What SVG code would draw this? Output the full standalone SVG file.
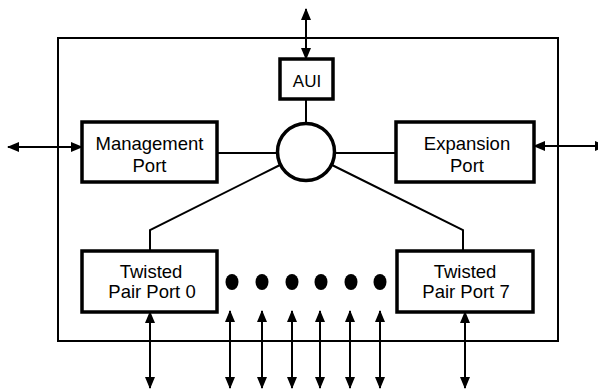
<svg xmlns="http://www.w3.org/2000/svg" width="598" height="389" viewBox="0 0 598 389">
  <style>
    .box { fill: #fff; stroke: #000; stroke-width: 3.5; }
    .frame { fill: none; stroke: #000; stroke-width: 2; }
    .wire { fill: none; stroke: #000; stroke-width: 2; }
    .arr { fill: none; stroke: #000; stroke-width: 2; marker-start: url(#ah); marker-end: url(#ah); }
    .lbl { font-family: "Liberation Sans", Arial, sans-serif; font-size: 18.5px; text-anchor: middle; fill: #000; }
    .dot { fill: #000; }
  </style>
  <defs>
    <marker id="ah" viewBox="0 0 12 10" refX="11" refY="5" markerWidth="12" markerHeight="10" markerUnits="userSpaceOnUse" orient="auto-start-reverse">
      <path d="M0,0 L12,5 L0,10 Z" fill="#000"/>
    </marker>
  </defs>
  <rect width="598" height="389" fill="#fff"/>

  <g id="enclosure">
    <rect class="frame" x="58" y="38" width="500" height="303"/>
  </g>

  <g id="connectors">
    <line class="wire" x1="306" y1="99" x2="306" y2="123"/>
    <line class="wire" x1="217" y1="153" x2="277" y2="153"/>
    <line class="wire" x1="335" y1="153" x2="396" y2="153"/>
    <polyline class="wire" points="280,165 150,230 150,251"/>
    <polyline class="wire" points="332,165 463,230 463,251"/>
    <line class="arr" x1="306" y1="9" x2="306" y2="59"/>
    <line class="arr" x1="8" y1="147" x2="82" y2="147"/>
    <line class="arr" x1="534" y1="146" x2="606" y2="146"/>
    <line class="arr" x1="150" y1="312" x2="150" y2="388"/>
    <line class="arr" x1="230" y1="311" x2="230" y2="388"/>
    <line class="arr" x1="262" y1="311" x2="262" y2="388"/>
    <line class="arr" x1="292" y1="311" x2="292" y2="388"/>
    <line class="arr" x1="320" y1="311" x2="320" y2="388"/>
    <line class="arr" x1="350" y1="311" x2="350" y2="388"/>
    <line class="arr" x1="380" y1="311" x2="380" y2="388"/>
    <line class="arr" x1="465" y1="312" x2="465" y2="388"/>
  </g>

  <g id="aui">
    <rect class="box" x="280" y="59" width="53" height="40"/>
    <text class="lbl" x="307" y="87" style="font-size:17px">AUI</text>
  </g>

  <g id="hub">
    <circle cx="306" cy="152" r="28.5" fill="#fff" stroke="#000" stroke-width="3.5"/>
  </g>

  <g id="management-port">
    <rect class="box" x="82" y="122" width="135" height="60"/>
    <text class="lbl" x="149.5" y="150">Management</text>
    <text class="lbl" x="149.5" y="172">Port</text>
  </g>

  <g id="expansion-port">
    <rect class="box" x="396" y="122" width="138" height="60"/>
    <text class="lbl" x="467" y="150">Expansion</text>
    <text class="lbl" x="467" y="172">Port</text>
  </g>

  <g id="tp-port-0">
    <rect class="box" x="82" y="251" width="135" height="61"/>
    <text class="lbl" x="151" y="278">Twisted</text>
    <text class="lbl" x="152" y="298">Pair Port 0</text>
  </g>

  <g id="tp-port-7">
    <rect class="box" x="397" y="251" width="136" height="61"/>
    <text class="lbl" x="465" y="278">Twisted</text>
    <text class="lbl" x="466" y="298">Pair Port 7</text>
  </g>

  <g id="ellipsis">
    <ellipse class="dot" cx="232" cy="282" rx="6.5" ry="8"/>
    <ellipse class="dot" cx="262" cy="282" rx="6.5" ry="8"/>
    <ellipse class="dot" cx="292" cy="282" rx="6.5" ry="8"/>
    <ellipse class="dot" cx="321" cy="282" rx="6.5" ry="8"/>
    <ellipse class="dot" cx="351" cy="282" rx="6.5" ry="8"/>
    <ellipse class="dot" cx="380" cy="282" rx="6.5" ry="8"/>
  </g>
</svg>
